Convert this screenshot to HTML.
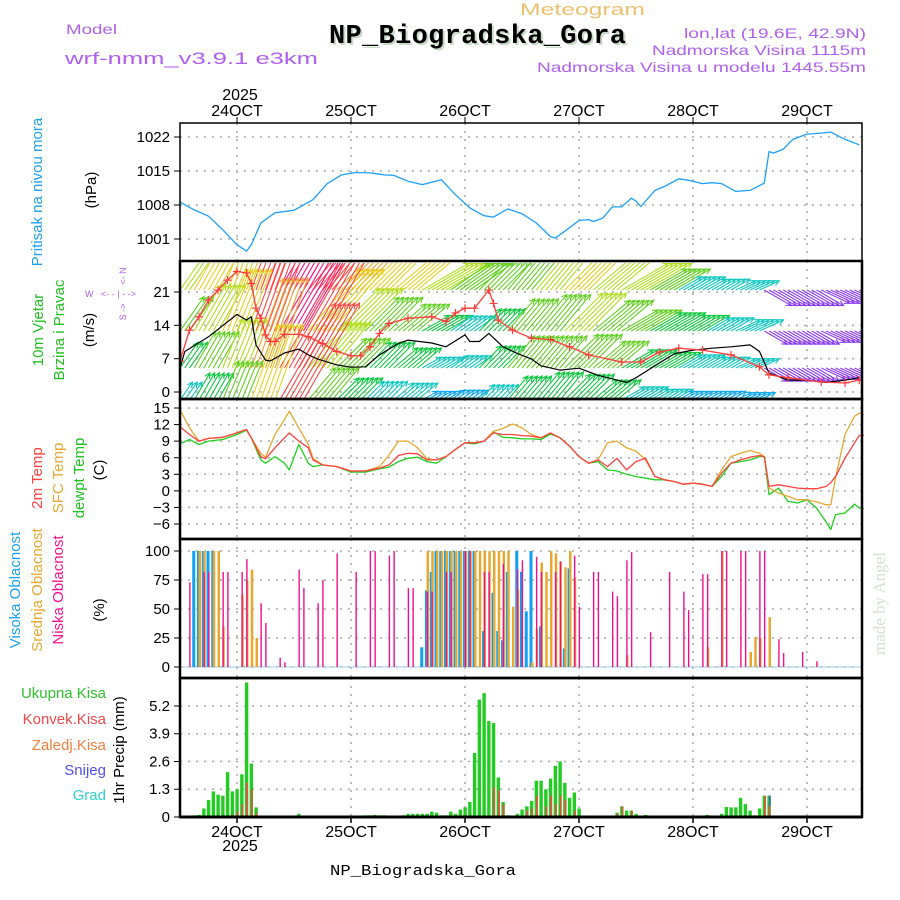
<!DOCTYPE html>
<html><head><meta charset="utf-8"><style>
html,body{margin:0;padding:0;background:#fff}
svg{display:block;font-family:"Liberation Sans",sans-serif}
</style></head><body>
<svg id="chart" width="900" height="900" viewBox="0 0 900 900" xmlns="http://www.w3.org/2000/svg">
<defs><clipPath id="cw"><rect x="181" y="263" width="680" height="135"/></clipPath></defs>
<g id="grid"></g>
<g id="marks"></g>
<g id="frames"></g>
<g id="labels">
<text x="520" y="15" font-size="17" fill="#f0c070" textLength="125" lengthAdjust="spacingAndGlyphs">Meteogram</text>
<text x="66" y="34" font-size="14" fill="#b060f0" textLength="51" lengthAdjust="spacingAndGlyphs">Model</text>
<text x="65" y="64" font-size="17" fill="#b060f0" textLength="253" lengthAdjust="spacingAndGlyphs">wrf-nmm_v3.9.1 e3km</text>
<text x="331" y="45" font-size="27" font-weight="bold" font-family="Liberation Mono,monospace" fill="#c8dcc8" textLength="297">NP_Biogradska_Gora</text>
<text x="329" y="43" font-size="27" font-weight="bold" font-family="Liberation Mono,monospace" fill="#000" textLength="297">NP_Biogradska_Gora</text>
<text x="684" y="38" font-size="14" fill="#b060f0" textLength="182" lengthAdjust="spacingAndGlyphs">lon,lat (19.6E, 42.9N)</text>
<text x="652" y="55" font-size="14" fill="#b060f0" textLength="214" lengthAdjust="spacingAndGlyphs">Nadmorska Visina 1115m</text>
<text x="537" y="72" font-size="14" fill="#b060f0" textLength="329" lengthAdjust="spacingAndGlyphs">Nadmorska Visina u modelu 1445.55m</text>
<text x="240" y="100" text-anchor="middle" font-size="16">2025</text>
<text x="240" y="851" text-anchor="middle" font-size="16">2025</text>
<text x="330" y="875" font-size="15" font-family="Liberation Mono,monospace" textLength="186" lengthAdjust="spacingAndGlyphs">NP_Biogradska_Gora</text>
<text transform="translate(885,655) rotate(-90)" font-size="17" font-family="Liberation Serif,serif" fill="#d4e2d4">made by Angel</text>

<text transform="translate(42,192) rotate(-90)" text-anchor="middle" font-size="15" fill="#20a0f0">Pritisak na nivou mora</text>
<text transform="translate(96,190) rotate(-90)" text-anchor="middle" font-size="15">(hPa)</text>
<text transform="translate(43,330) rotate(-90)" text-anchor="middle" font-size="15" fill="#20c020">10m Vjetar</text>
<text transform="translate(64,330) rotate(-90)" text-anchor="middle" font-size="15" fill="#20c020">Brzina i Pravac</text>
<text transform="translate(94,330) rotate(-90)" text-anchor="middle" font-size="15">(m/s)</text>
<g fill="#b060f0" font-size="9" stroke="none">
<text x="85" y="297">W</text>
<text x="101" y="297">&lt;- - | - -&gt;</text>
<text transform="translate(126,276) rotate(-90)" text-anchor="middle">&lt;- N</text>
<text transform="translate(126,312) rotate(-90)" text-anchor="middle">S -&gt;</text>
</g>
<text transform="translate(42,478) rotate(-90)" text-anchor="middle" font-size="15" fill="#ff4040">2m Temp</text>
<text transform="translate(63,478) rotate(-90)" text-anchor="middle" font-size="15" fill="#e8a830">SFC Temp</text>
<text transform="translate(84,478) rotate(-90)" text-anchor="middle" font-size="15" fill="#20c020">dewpt Temp</text>
<text transform="translate(104,470) rotate(-90)" text-anchor="middle" font-size="15">(C)</text>
<text transform="translate(20,590) rotate(-90)" text-anchor="middle" font-size="15" fill="#20a0f0">Visoka Oblacnost</text>
<text transform="translate(42,590) rotate(-90)" text-anchor="middle" font-size="15" fill="#e8a830">Srednja Oblacnost</text>
<text transform="translate(63,590) rotate(-90)" text-anchor="middle" font-size="15" fill="#ff1090">Niska Oblacnost</text>
<text transform="translate(104,610) rotate(-90)" text-anchor="middle" font-size="15">(%)</text>
<text x="106" y="698" text-anchor="end" font-size="15" fill="#30c030">Ukupna  Kisa</text>
<text x="106" y="724" text-anchor="end" font-size="15" fill="#f04848">Konvek.Kisa</text>
<text x="106" y="750" text-anchor="end" font-size="15" fill="#f08040">Zaledj.Kisa</text>
<text x="106" y="775" text-anchor="end" font-size="15" fill="#5050f0">Snijeg</text>
<text x="106" y="800" text-anchor="end" font-size="15" fill="#30d0d0">Grad</text>
<text transform="translate(124,750) rotate(-90)" text-anchor="middle" font-size="15">1hr Precip (mm)</text>
</g>
</svg>
<script>
// ---- data ----
const dayLabels = ["24OCT","25OCT","26OCT","27OCT","28OCT","29OCT"];
const dayHours = [12,36,60,84,108,132];
const pressureTicks = [1022,1015,1008,1001];
const windTicks = [21,14,7,0];
const tempTicks = [15,12,9,6,3,0,-3,-6];
const cloudTicks = [100,75,50,25,0];
const precipTicks = [5.2,3.9,2.6,1.3,0];
const precipTickLabels = ["5.2","3.9","2.6","1.3","0"];

const pHours = [0,3,6,9,12,14,15,17,20,24,28,31,34,37,40,43,45,48,51,53,55,58,61,64,66,69,72,75,78,79,81,84,86,87,89,91,93,95,96,97,100,102,105,107,110,112,114,117,120,123,124,125,127,129,132,135,137,140,143];
const pressure = [1008.6,1007.0,1005.7,1002.9,999.8,998.5,999.8,1004.3,1006.4,1006.9,1009.1,1012.4,1014.2,1014.7,1014.6,1014.2,1014.1,1012.9,1012.2,1012.7,1013.2,1010.1,1007.4,1005.8,1005.5,1007.2,1006.2,1004.3,1001.5,1001.2,1002.6,1004.8,1005.0,1004.6,1005.3,1007.6,1007.6,1009.4,1008.8,1007.7,1011.0,1011.8,1013.4,1013.1,1012.4,1012.6,1012.4,1010.8,1011.0,1012.5,1019.0,1018.7,1019.5,1021.5,1022.6,1022.8,1023.0,1021.5,1020.4];

const wsHours = [0,1,6,12,14,15,16,18,19,22,25,27,29,33,36,39,42,46,48,53,56,60,61,63,65,68,71,74,76,80,84,88,92,94,96,100,104,108,112,116,120,122,124,128,132,136,140,143];
const windSpeed = [5.0,8.5,11.6,16.3,15.1,15.8,9.9,6.7,6.5,8.2,9.0,7.8,6.9,5.7,5.2,5.3,7.8,10.2,10.9,10.3,9.5,12.0,10.6,10.6,12.3,9.5,8.1,6.9,5.5,4.6,5.0,3.5,2.5,2.0,3.0,5.5,8.0,8.8,9.2,9.5,9.9,8.5,4.0,2.5,2.5,2.0,2.5,3.0];
const gustHours = [0,2,4,6,8,10,12,14,15,16,17,18,19,20,22,25,27,30,33,36,38,40,42,44,48,53,56,58,60,62,65,66,67,70,74,78,82,86,93,97,101,105,110,116,122,124,128,135,140,143];
const windGust = [6.5,13,15.8,19.3,21.4,23.5,25.3,25.0,22.8,17.6,15.5,12,10.6,10.6,12.1,12.1,11.6,10.2,8.5,7.6,7.6,9.5,12.3,14.4,15.5,15.8,14.8,16.6,17.6,17.6,21.4,18.6,15.1,13,11.3,11.0,9.5,7.8,6.3,6.3,8.4,9.2,8.8,7.8,5.3,3.6,3.0,2.1,1.9,2.5];
// wind arrows: 6-hourly (h0..144), four levels
const arrowHours = [0,6,12,18,24,30,36,42,48,54,60,66,72,78,84,90,96,102,108,114,120,126,132,138,144];
const arrowDir = [55,60,68,70,60,50,45,45,40,30,35,45,50,50,45,40,30,30,30,30,25,-30,-30,-25,-25];
const level1Speed = [12,14,16,22,25,20,18,15,14,12,11,10,11,13,14,13,12,10,7,6,6,8,8,8,8];
const level2Speed = [10,12,14,20,24,16,13,11,10,8,7,8,10,11,12,11,10,9,8,7,7,7,7,7,7];
const level3Speed = [8,10,12,18,22,13,10,9,8,6,6,8,10,10,11,10,9,8,7,6,6,7,7,7,7];
const level4Speed = [6,8,10,16,20,10,8,7,7,5,5,6,8,9,9,8,7,6,5,5,5,6,6,6,6];

const tHours = [0,2,4,6,9,12,14,15,17,18,20,22,23,25,27,28,30,33,36,39,42,44,46,48,50,52,54,56,58,60,62,64,66,68,70,72,74,76,78,80,82,84,86,88,90,92,94,96,98,100,102,104,106,108,110,112,114,116,118,120,122,123,124,126,128,130,132,134,136,137,138,140,142,143,144];
const temp2m = [11.6,10.2,9.0,9.5,9.7,10.5,11.1,9.6,6.2,5.8,7.8,9.6,10.5,9.0,7.8,5.6,4.7,4.4,3.6,3.6,4.1,4.7,6.4,6.8,6.7,5.6,5.6,6.2,7.5,8.7,8.7,9.0,10.5,10.2,10.2,10.0,9.9,9.6,10.5,9.6,8.1,6.2,5.0,5.6,4.4,5.9,3.8,5.3,5.9,2.6,2.0,1.7,1.2,1.4,1.2,0.8,3.2,5.0,5.6,6.1,6.4,6.2,0.8,1.1,0.8,0.5,0.4,0.4,0.8,1.5,2.6,5.9,8.7,10.0,10.1];
const tempSfc = [14.7,11.4,9.0,9.5,9.7,10.5,11.1,9.6,6.8,6.1,10.2,12.9,14.4,11.4,8.4,5.9,4.7,4.4,3.6,3.6,4.4,6.5,9.0,9.0,7.8,5.8,5.6,6.2,7.5,8.7,8.7,9.0,10.8,11.3,12.1,11.4,10.2,9.6,10.5,9.6,8.1,6.2,5.0,5.6,8.7,9.0,7.8,7.2,5.6,2.6,2.0,1.7,1.2,1.4,1.2,0.8,3.8,6.2,6.8,7.3,6.8,6.2,0.5,-0.4,-1.0,-1.6,-1.6,-2.0,-2.5,-2.5,2.3,10.2,13.5,14.1,13.8];
const dewpoint = [8.5,9.3,8.4,9.0,9.3,10.2,11.0,9.6,5.6,5.0,6.2,5.0,3.8,8.4,5.0,4.4,4.7,4.4,3.4,3.4,4.0,4.3,5.3,5.9,6.1,5.3,5.0,6.2,7.5,8.7,8.5,9.0,10.7,9.7,9.6,9.4,9.4,9.3,10.3,9.6,8.1,6.2,5.0,5.3,3.8,3.6,3.0,2.6,2.3,2.0,2.0,1.7,1.2,1.4,1.2,0.8,2.6,5.0,5.3,5.6,6.2,6.2,-0.7,0.5,-1.9,-2.2,-1.6,-3.1,-5.6,-7.0,-4.3,-4.0,-2.4,-3.1,-3.2];

const cloudHours = [2,3,4,5,6,7,8,9,10,13,14,15,16,17,18,21,22,25,26,29,30,33,37,40,41,44,45,48,49,51,52,53,54,55,56,57,58,59,60,61,62,63,64,65,66,67,68,69,70,71,72,73,74,75,76,77,78,79,80,81,82,83,84,87,88,91,92,94,95,96,99,103,106,107,110,111,114,115,118,119,120,121,122,123,124,126,127,131,134];
const cloudHigh = [0,100,100,100,100,100,0,0,0,0,0,0,0,0,0,0,0,0,0,0,0,0,0,0,0,0,0,0,0,17,66,82,100,100,100,100,100,100,100,100,100,0,31,0,64,31,23,82,0,100,82,48,100,0,35,0,0,0,0,16,85,0,0,0,0,0,0,0,0,0,0,0,0,0,0,0,0,0,0,0,0,0,0,0,0,0,0,0,0];
const cloudMid = [0,0,100,100,0,100,100,35,0,62,75,84,25,0,0,0,0,0,0,0,0,0,0,0,0,0,0,0,0,0,100,100,100,100,100,100,100,100,100,100,100,100,100,100,100,100,100,100,52,67,0,0,4,33,90,82,100,98,91,86,100,77,0,0,0,0,0,10,0,0,0,0,0,0,0,17,100,0,0,0,13,26,25,0,43,0,0,0,0];
const cloudLow = [73,0,0,82,82,0,0,82,82,82,93,0,0,55,38,8,4,84,68,55,75,98,82,100,100,96,100,68,68,0,65,65,0,0,82,82,0,0,100,100,0,0,82,82,0,0,89,0,0,84,92,0,0,95,82,0,0,82,91,0,0,96,52,82,82,65,61,92,99,0,30,82,65,49,80,80,100,100,100,100,0,0,100,100,0,24,12,13,5];

const precipHours = [3,4,5,6,7,8,9,10,11,12,13,14,15,16,25,39,40,41,42,43,47,48,49,50,51,52,53,54,55,56,57,58,59,60,61,62,63,64,65,66,67,68,69,70,71,72,73,74,75,76,77,78,79,80,81,82,83,84,92,93,94,95,96,97,98,99,111,112,113,114,115,116,117,118,119,120,121,122,123,124,125];
const precipTotal = [0.08,0.1,0.4,0.8,1.2,1.05,1.0,2.1,1.2,1.3,2.0,6.3,2.5,0.45,0.15,0.08,0.08,0.1,0.08,0.08,0.08,0.15,0.15,0.15,0.15,0.15,0.25,0.2,0.08,0.08,0.25,0.15,0.35,0.45,0.7,3.0,5.5,5.8,4.5,4.4,1.85,0.7,0.08,0.03,0.15,0.35,0.5,0.75,1.7,1.7,1.3,1.8,2.4,2.6,1.6,0.9,1.15,0.4,0.2,0.5,0.3,0.3,0.15,0,0.1,0.05,0.1,0.06,0.06,0.15,0.47,0.45,0.45,0.9,0.6,0.3,0.08,0.4,1.0,1.0,0.05];
const precipConv = [0,0,0,0,0,0,0,0,0.1,0.25,0.6,1.6,1.3,0.2,0,0,0,0,0,0,0,0,0,0,0,0,0,0,0,0,0,0,0,0,0,0,0,0,0,1.4,1.25,0.6,0,0,0,0,0.3,0.4,1.0,0,0.5,1.0,0.6,1.0,0.8,0,0.3,0,0.15,0.5,0,0.3,0,0,0,0,0,0,0,0,0,0,0,0,0,0,0,0,1.0,0.6,0];
const precipSnow = [0,0,0,0,0,0,0,0,0,0,0,0,0,0,0,0,0,0,0,0,0,0,0,0,0,0,0,0,0,0,0,0,0,0,0,0,0,0,0,0,0,0,0,0,0,0,0,0,0,0,0,0,0,0,0,0,0,0,0,0,0,0,0,0,0,0,0,0,0,0,0,0,0,0,0,0,0,0,0,0.5,0];

// ---- scales ----
const X0 = 180, X1 = 862, PXH = 4.75;
const xS = h => X0 + h * PXH;
const yP = v => 137 + (1022 - v) * 4.857;
const yW = v => 392 - v * 4.762;
const yT = v => 408 + (15 - v) * 5.524;
const yC = v => 667 - v * 1.16;
const yR = v => 817 - v * 21.35;
const NS = "http://www.w3.org/2000/svg";
function mk(tag, attrs, parent) {
  const e = document.createElementNS(NS, tag);
  for (const k in attrs) e.setAttribute(k, attrs[k]);
  parent.appendChild(e);
  return e;
}
const grid = document.getElementById('grid');
const marks = document.getElementById('marks');
const frames = document.getElementById('frames');
const labels = document.getElementById('labels');
const panels = [
  {top:123,bot:261,ticks:pressureTicks,lab:pressureTicks.map(String),y:yP,name:'pressure'},
  {top:261,bot:399,ticks:windTicks,lab:windTicks.map(String),y:yW,name:'wind'},
  {top:399,bot:539,ticks:tempTicks,lab:tempTicks.map(v=>v<0?'\u2212'+(-v):String(v)),y:yT,name:'temp'},
  {top:539,bot:678,ticks:cloudTicks,lab:cloudTicks.map(String),y:yC,name:'cloud'},
  {top:678,bot:817,ticks:precipTicks,lab:precipTickLabels,y:yR,name:'precip'}
];
panels.forEach(p => {
  dayHours.forEach(h => {
    const l = mk('line',{x1:xS(h),x2:xS(h),y1:p.top,y2:p.bot,stroke:'#aaa','stroke-width':1.5,'stroke-dasharray':'2,6'},grid);
    
    
  });
  p.ticks.forEach((v,i) => {
    const y = p.y(v);
    if (!(p.name==='precip' && v===0)) {
      const l = mk('line',{x1:X0,x2:X1,y1:y,y2:y,stroke:'#aaa','stroke-width':1.5,'stroke-dasharray':'2,6'},grid);
      
      
    }
    mk('line',{x1:X0-6,x2:X0,y1:y,y2:y,stroke:'#000','stroke-width':1},frames);
    const t = mk('text',{x:X0-10,y:y+5,'text-anchor':'end','font-size':15},labels);
    t.textContent = p.lab[i];
    
    
  });
  const r = mk('rect',{x:X0,y:p.top,width:X1-X0,height:p.bot-p.top,fill:'none',stroke:'#000','stroke-width':p.name==='pressure'?1.5:2.5},frames);
  
  
});
mk('line',{x1:X0,x2:X1,y1:817,y2:817,stroke:'#000','stroke-width':3},frames);
dayHours.forEach((h,i) => {
  mk('line',{x1:xS(h),x2:xS(h),y1:117,y2:123,stroke:'#000','stroke-width':1},frames);
  mk('line',{x1:xS(h),x2:xS(h),y1:817,y2:823,stroke:'#000','stroke-width':1.5},frames);
  const t = mk('text',{x:xS(h),y:116,'text-anchor':'middle','font-size':16},labels);
  t.textContent = dayLabels[i];
  
  
  const b = mk('text',{x:xS(h),y:837,'text-anchor':'middle','font-size':16},labels);
  b.textContent = dayLabels[i];
  
  
});
function line(hs, vs, yf, color, w, name, parent) {
  const d = hs.map((h,i)=>(i?'L':'M')+xS(h).toFixed(1)+','+yf(vs[i]).toFixed(1)).join('');
  const p = mk('path',{d:d,fill:'none',stroke:color,'stroke-width':w,'stroke-linejoin':'round'},parent||marks);
  
  
  return p;
}
// pressure
line(pHours, pressure, yP, '#1ea0ff', 1.3, 'pressure-line');
// wind arrows
const wg = mk('g',{'clip-path':'url(#cw)'},marks);


const levels = [[level1Speed,290],[level2Speed,331],[level3Speed,368],[level4Speed,400]];
function spdColor(s, dir) {
  if (dir < 0) return '#8a3cf0';
  if (s < 4) return '#3070ff';
  if (s < 6) return '#10a8f0';
  if (s < 8) return '#10c8c0';
  if (s < 10) return '#10c840';
  if (s < 12) return '#60d020';
  if (s < 14) return '#b0e020';
  if (s < 17) return '#e8d020';
  if (s < 20) return '#f0a030';
  if (s < 23) return '#ff4848';
  return '#ff1080';
}
levels.forEach(([arr, base], li) => {
  for (let h = 0; h <= 143; h++) {
    const k = Math.round(h / 6);
    const s = arr[k], dir = arrowDir[k];
    const len = 2.8 * s + 0.14 * s * s;
    const a = dir * Math.PI / 180;
    const x1 = xS(h), y1 = base;
    const x2 = x1 + len * Math.cos(a), y2 = y1 - len * Math.sin(a);
    const c = spdColor(s, dir);
    const ah = 6, b1 = a + Math.PI - 0.45, b2 = a + Math.PI + 0.45;
    const ar = mk('path',{d:`M${x1},${y1}L${x2},${y2}M${x2+ah*Math.cos(b1)},${y2-ah*Math.sin(b1)}L${x2},${y2}L${x2+ah*Math.cos(b2)},${y2-ah*Math.sin(b2)}`,stroke:c,'stroke-width':1.1,fill:'none'},wg);
    
    
  }
});
const wl = mk('g',{'clip-path':'url(#cw)'},marks);
line(wsHours, windSpeed, yW, '#000', 1.2, 'wind-speed-line', wl);
line(gustHours, windGust, yW, '#ff3c3c', 1.3, 'wind-gust-line', wl);
gustHours.forEach((h,i)=>{
  const x = xS(h), y = yW(windGust[i]);
  const m = mk('path',{d:`M${x-4},${y}L${x+4},${y}M${x},${y-4}L${x},${y+4}`,stroke:'#ff3c3c','stroke-width':1.2},wl);
  
  
});
// temperatures
line(tHours, dewpoint, yT, '#20d020', 1.3, 'dewpoint-line');
line(tHours, tempSfc, yT, '#e8a830', 1.3, 'sfc-temp-line');
line(tHours, temp2m, yT, '#ff4040', 1.3, 'temp-2m-line');
// clouds
mk('line',{x1:X0,x2:X1,y1:667,y2:667,stroke:'#a0c8e8','stroke-width':1},marks);
cloudHours.forEach((h,i)=>{
  const x = xS(h);
  if (cloudHigh[i] > 0) {
    const r = mk('rect',{x:x-2,y:yC(cloudHigh[i]),width:3,height:667-yC(cloudHigh[i]),fill:'#10a0f0'},marks);
    
    
  }
  if (cloudMid[i] > 0) {
    const r = mk('rect',{x:x-0.5,y:yC(cloudMid[i]),width:2.5,height:667-yC(cloudMid[i]),fill:'#e8a830'},marks);
    
    
  }
  if (cloudLow[i] > 0) {
    const r = mk('rect',{x:x-0.3,y:yC(cloudLow[i]),width:1.4,height:667-yC(cloudLow[i]),fill:'#f0108c'},marks);
    
    
  }
});
// precip
precipHours.forEach((h,i)=>{
  const x = xS(h);
  if (precipTotal[i] > 0) {
    const r = mk('rect',{x:x-1.6,y:yR(precipTotal[i]),width:3.4,height:817-yR(precipTotal[i]),fill:'#22cc22'},marks);
    
    
  }
  if (precipConv[i] > 0) {
    const r = mk('rect',{x:x-0.2,y:yR(precipConv[i]),width:1.6,height:817-yR(precipConv[i]),fill:'#f04848'},marks);
    
    
  }
  if (precipSnow[i] > 0) {
    const r = mk('rect',{x:x+0.2,y:yR(precipSnow[i]+0.5),width:1.4,height:yR(0.5)-yR(precipSnow[i]+0.5),fill:'#4050e0'},marks);
    
    
  }
});
</script>
</body></html>
